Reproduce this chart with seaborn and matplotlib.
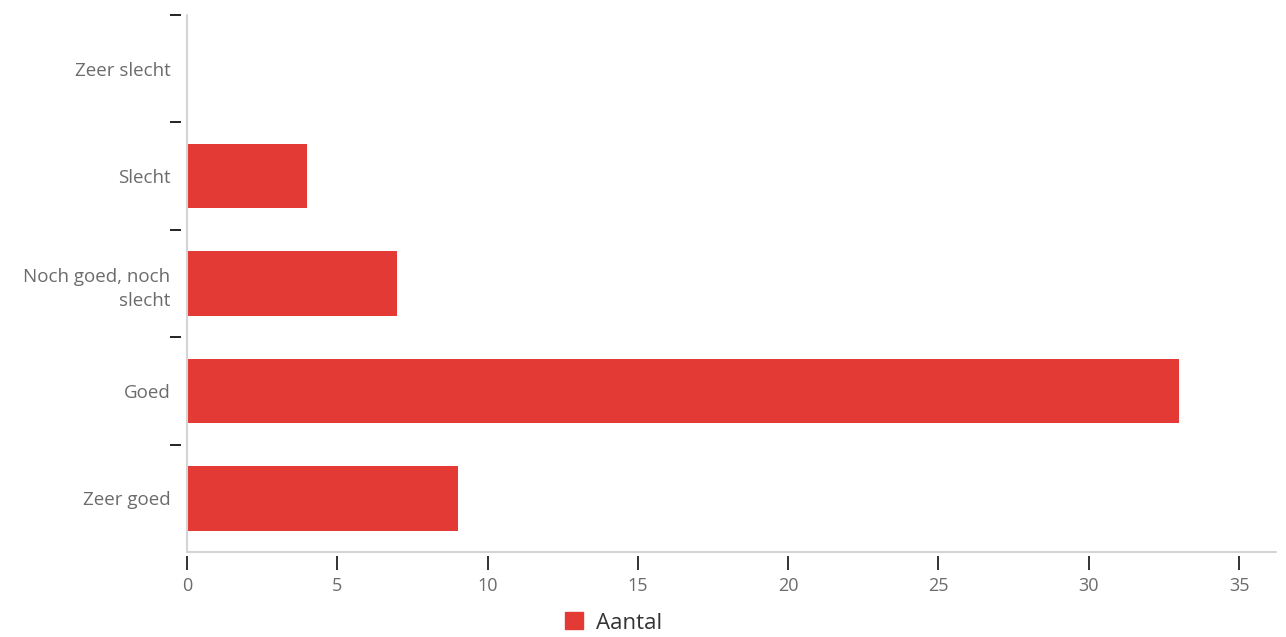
import matplotlib
matplotlib.use("Agg")
import matplotlib.pyplot as plt
import seaborn as sns
import pandas as pd
from matplotlib.patches import Patch

categories = ["Zeer slecht", "Slecht", "Noch goed, noch\nslecht", "Goed", "Zeer goed"]
values = [0, 4, 7, 33, 9]
series_name = "Aantal"
x_ticks = [0, 5, 10, 15, 20, 25, 30, 35]

bar_color = "#e43a36"
label_color = "#6b6b6b"
axis_color = "#d4d4d4"
tick_color = "#222222"

sns.set_theme(style="white")
plt.rcParams["font.family"] = ["Open Sans", "DejaVu Sans"]

df = pd.DataFrame({"categorie": categories, "aantal": values})

fig = plt.figure(figsize=(12.86, 6.37), dpi=100)
ax = fig.add_axes([187 / 1286, 1 - 552 / 637, (1276 - 187) / 1286, (552 - 15) / 637])

sns.barplot(data=df, x="aantal", y="categorie", color=bar_color, width=0.6,
            saturation=1, ax=ax, orient="h", linewidth=0)

ax.set_xlim(0, 36.23)
ax.set_ylim(len(categories) - 0.5, -0.5)
ax.set_xlabel("")
ax.set_ylabel("")

# Spines act only as tick carriers, pushed slightly outward; the visible
# axis lines are drawn separately in light gray.
for side in ["top", "right"]:
    ax.spines[side].set_visible(False)
ax.spines["left"].set_position(("outward", 4))
ax.spines["bottom"].set_position(("outward", 3))
ax.spines["left"].set_color("none")
ax.spines["bottom"].set_color("none")
ax.axvline(0, color=axis_color, lw=1.5, zorder=3, clip_on=False)
ax.axhline(len(categories) - 0.5, color=axis_color, lw=1.5, zorder=3, clip_on=False)

# Category labels at band centres, tick marks at band boundaries
n = len(categories)
ax.set_yticks([i - 0.5 for i in range(n)])
ax.set_yticklabels([])
ax.set_yticks(list(range(n)), minor=True)
ax.set_yticklabels(categories, minor=True, ha="right", fontsize=13.5,
                   color=label_color, linespacing=1.45)
ax.tick_params(axis="y", which="major", length=8, width=1.4, color=tick_color,
               direction="out", left=True)
ax.tick_params(axis="y", which="minor", length=0, pad=8, left=True)

ax.set_xticks(x_ticks)
ax.set_xticklabels([str(t) for t in x_ticks], fontsize=13, color=label_color)
ax.tick_params(axis="x", which="major", length=10, width=1.3, color=tick_color,
               direction="out", bottom=True, pad=5)

handle = Patch(facecolor=bar_color, edgecolor=bar_color, label=series_name)
fig.legend(handles=[handle], loc="center", bbox_to_anchor=(614 / 1286, 1 - 623 / 637),
           frameon=False, fontsize=16, handlelength=0.8, handleheight=0.8,
           handletextpad=0.6, labelcolor="#333333")

fig.savefig("out.png", dpi=100)
